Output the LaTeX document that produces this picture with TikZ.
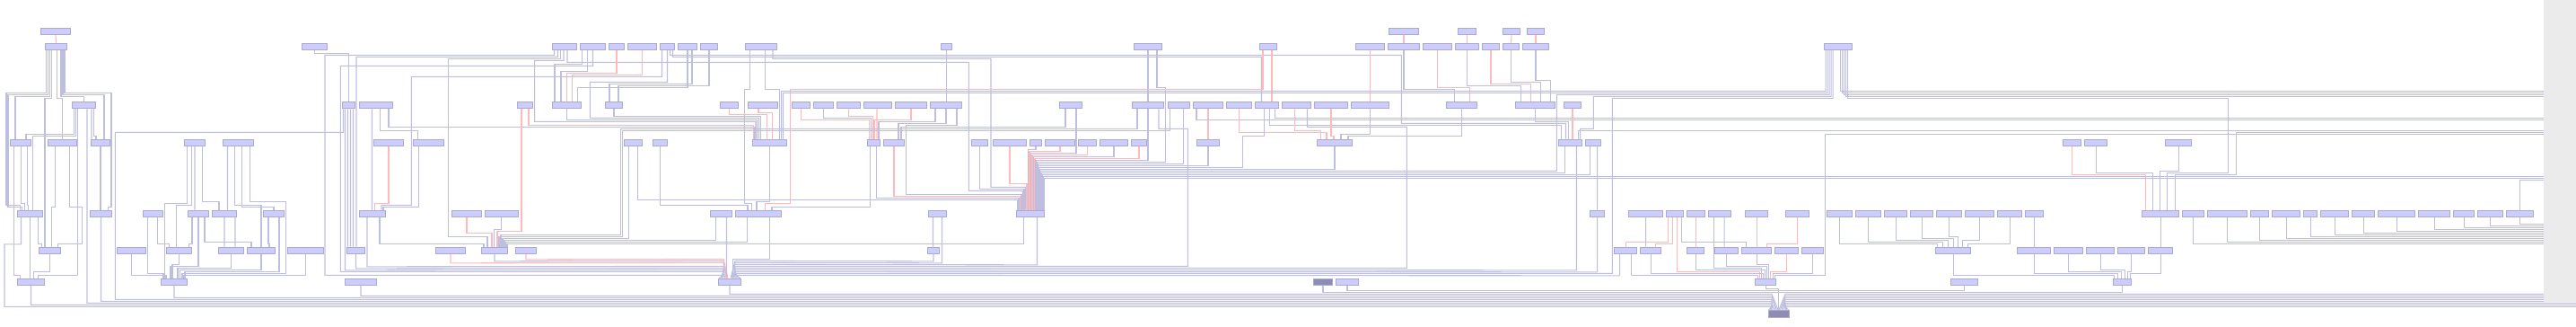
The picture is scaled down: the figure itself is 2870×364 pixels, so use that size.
\documentclass[tikz,border=0pt]{standalone}
\usetikzlibrary{positioning}
\definecolor{cellfill}{RGB}{204,204,255}
\definecolor{cellline}{RGB}{172,172,200}
\definecolor{darkfill}{RGB}{140,140,180}
\definecolor{wireblue}{RGB}{190,190,224}
\definecolor{wirered}{RGB}{255,185,185}
\definecolor{panel}{RGB}{235,235,235}
\tikzset{
	cell/.style     = {draw=cellline, fill=cellfill, rectangle, inner sep=0pt, minimum height=0.72mm, line width=0.3pt},
	darkcell/.style = {cell, fill=darkfill},
	wire/.style     = {draw=wireblue, line width=0.3pt},
	hotwire/.style  = {draw=wirered, line width=0.3pt}
}
\begin{document}
\begin{tikzpicture}[x=0.1mm, y=-0.1mm]
	\useasboundingbox (0,0) rectangle (2870,364);
	\fill[panel] (2834,0) rectangle (2870,336);

	\node (A1) [cell, minimum width=3.3mm] at (62,35) {};
	\node (A2) [cell, minimum width=3.3mm] at (1564,35) {};
	\node (A3) [cell, minimum width=2.0mm] at (1634.5,35) {};
	\node (A4) [cell, minimum width=1.9mm] at (1684,35) {};
	\node (A5) [cell, minimum width=1.9mm] at (1711,35) {};

	\node (B1)  [cell, minimum width=2.4mm] at (62.5,51.7) {};
	\node (B2)  [cell, minimum width=2.8mm] at (350.5,51.7) {};
	\node (B3)  [cell, minimum width=2.7mm] at (629,51.7) {};
	\node (B4)  [cell, minimum width=2.8mm] at (660.5,51.7) {};
	\node (B5)  [cell, minimum width=1.7mm] at (687,51.7) {};
	\node (B6)  [cell, minimum width=3.2mm] at (715.5,51.7) {};
	\node (B7)  [cell, minimum width=1.6mm] at (743.5,51.7) {};
	\node (B8)  [cell, minimum width=2.1mm] at (766,51.7) {};
	\node (B9)  [cell, minimum width=1.9mm] at (790,51.7) {};
	\node (B10) [cell, minimum width=3.5mm] at (848,51.7) {};
	\node (B11) [cell, minimum width=1.2mm] at (1054.5,51.7) {};
	\node (B12) [cell, minimum width=3.1mm] at (1279,51.7) {};
	\node (B13) [cell, minimum width=1.9mm] at (1413,51.7) {};
	\node (B14) [cell, minimum width=3.2mm] at (1526.5,51.7) {};
	\node (B15) [cell, minimum width=3.5mm] at (1564,51.7) {};
	\node (B16) [cell, minimum width=3.2mm] at (1601.5,51.7) {};
	\node (B17) [cell, minimum width=2.6mm] at (1634.5,51.7) {};
	\node (B18) [cell, minimum width=1.9mm] at (1661,51.7) {};
	\node (B19) [cell, minimum width=1.8mm] at (1683.5,51.7) {};
	\node (B20) [cell, minimum width=2.9mm] at (1711,51.7) {};
	\node (B21) [cell, minimum width=3.1mm] at (2048,51.7) {};

	\node (C1)  [cell, minimum width=2.6mm] at (93.5,117.3) {};
	\node (C2)  [cell, minimum width=1.4mm] at (388.5,117.3) {};
	\node (C3)  [cell, minimum width=3.7mm] at (419,117.3) {};
	\node (C4)  [cell, minimum width=1.7mm] at (585,117.3) {};
	\node (C5)  [cell, minimum width=3.2mm] at (631.5,117.3) {};
	\node (C6)  [cell, minimum width=1.9mm] at (684,117.3) {};
	\node (C7)  [cell, minimum width=2.0mm] at (812.5,117.3) {};
	\node (C8)  [cell, minimum width=3.3mm] at (850,117.3) {};
	\node (C9)  [cell, minimum width=2.0mm] at (892.5,117.3) {};
	\node (C10) [cell, minimum width=2.2mm] at (917.5,117.3) {};
	\node (C11) [cell, minimum width=2.6mm] at (945.5,117.3) {};
	\node (C12) [cell, minimum width=3.1mm] at (978,117.3) {};
	\node (C13) [cell, minimum width=3.5mm] at (1015,117.3) {};
	\node (C14) [cell, minimum width=3.5mm] at (1054,117.3) {};
	\node (C15) [cell, minimum width=2.5mm] at (1193,117.3) {};
	\node (C16) [cell, minimum width=3.5mm] at (1279,117.3) {};
	\node (C17) [cell, minimum width=2.4mm] at (1313.5,117.3) {};
	\node (C18) [cell, minimum width=3.3mm] at (1346,117.3) {};
	\node (C19) [cell, minimum width=2.8mm] at (1380.5,117.3) {};
	\node (C20) [cell, minimum width=2.6mm] at (1411.5,117.3) {};
	\node (C21) [cell, minimum width=3.2mm] at (1444.5,117.3) {};
	\node (C22) [cell, minimum width=3.7mm] at (1483,117.3) {};
	\node (C23) [cell, minimum width=4.2mm] at (1526.5,117.3) {};
	\node (C24) [cell, minimum width=3.4mm] at (1628.5,117.3) {};
	\node (C25) [cell, minimum width=4.4mm] at (1710.5,117.3) {};
	\node (C26) [cell, minimum width=1.9mm] at (1752,117.3) {};

	\node (D1)  [cell, minimum width=2.3mm] at (23,158.7) {};
	\node (D2)  [cell, minimum width=3.2mm] at (69.5,158.7) {};
	\node (D3)  [cell, minimum width=2.1mm] at (112,158.7) {};
	\node (D4)  [cell, minimum width=2.3mm] at (217,158.7) {};
	\node (D5)  [cell, minimum width=3.4mm] at (265.5,158.7) {};
	\node (D6)  [cell, minimum width=3.3mm] at (433,158.7) {};
	\node (D7)  [cell, minimum width=3.4mm] at (477.5,158.7) {};
	\node (D8)  [cell, minimum width=2.0mm] at (705.5,158.7) {};
	\node (D9)  [cell, minimum width=1.6mm] at (735.5,158.7) {};
	\node (D10) [cell, minimum width=3.8mm] at (857.5,158.7) {};
	\node (D11) [cell, minimum width=1.4mm] at (973.5,158.7) {};
	\node (D12) [cell, minimum width=2.3mm] at (996,158.7) {};
	\node (D13) [cell, minimum width=1.8mm] at (1091.5,158.7) {};
	\node (D14) [cell, minimum width=3.7mm] at (1125,158.7) {};
	\node (D15) [cell, minimum width=1.3mm] at (1154,158.7) {};
	\node (D16) [cell, minimum width=3.3mm] at (1181,158.7) {};
	\node (D17) [cell, minimum width=2.0mm] at (1211.5,158.7) {};
	\node (D18) [cell, minimum width=3.1mm] at (1241,158.7) {};
	\node (D19) [cell, minimum width=1.7mm] at (1269,158.7) {};
	\node (D20) [cell, minimum width=2.5mm] at (1346,158.7) {};
	\node (D21) [cell, minimum width=3.9mm] at (1487,158.7) {};
	\node (D22) [cell, minimum width=2.6mm] at (1749.5,158.7) {};
	\node (D23) [cell, minimum width=1.7mm] at (1775,158.7) {};
	\node (D24) [cell, minimum width=2.0mm] at (2308.5,158.7) {};
	\node (D25) [cell, minimum width=2.5mm] at (2335,158.7) {};
	\node (D26) [cell, minimum width=2.9mm] at (2427,158.7) {};

	\node (E1)  [cell, minimum width=2.8mm] at (33.5,237.7) {};
	\node (E2)  [cell, minimum width=2.4mm] at (112.5,237.7) {};
	\node (E3)  [cell, minimum width=2.2mm] at (170.5,237.7) {};
	\node (E4)  [cell, minimum width=2.3mm] at (221,237.7) {};
	\node (E5)  [cell, minimum width=2.7mm] at (250,237.7) {};
	\node (E6)  [cell, minimum width=2.3mm] at (305,237.7) {};
	\node (E7)  [cell, minimum width=2.9mm] at (415,237.7) {};
	\node (E8)  [cell, minimum width=3.3mm] at (520,237.7) {};
	\node (E9)  [cell, minimum width=3.7mm] at (559,237.7) {};
	\node (E10) [cell, minimum width=2.4mm] at (803.5,237.7) {};
	\node (E11) [cell, minimum width=5.1mm] at (845,237.7) {};
	\node (E12) [cell, minimum width=2.0mm] at (1044.5,237.7) {};
	\node (E13) [cell, minimum width=3.1mm] at (1148,237.7) {};
	\node (E14) [cell, minimum width=1.6mm] at (1779.5,237.7) {};
	\node (E15) [cell, minimum width=3.8mm] at (1833.5,237.7) {};
	\node (E16) [cell, minimum width=1.9mm] at (1866,237.7) {};
	\node (E17) [cell, minimum width=2.0mm] at (1889.5,237.7) {};
	\node (E18) [cell, minimum width=2.5mm] at (1916,237.7) {};
	\node (E19) [cell, minimum width=2.5mm] at (1957,237.7) {};
	\node (E20) [cell, minimum width=2.6mm] at (2002.5,237.7) {};
	\node (E21) [cell, minimum width=2.8mm] at (2049.5,237.7) {};
	\node (E22) [cell, minimum width=2.8mm] at (2081.5,237.7) {};
	\node (E23) [cell, minimum width=2.5mm] at (2112,237.7) {};
	\node (E24) [cell, minimum width=2.5mm] at (2141,237.7) {};
	\node (E25) [cell, minimum width=2.8mm] at (2171.5,237.7) {};
	\node (E26) [cell, minimum width=3.2mm] at (2205.5,237.7) {};
	\node (E27) [cell, minimum width=2.7mm] at (2239,237.7) {};
	\node (E28) [cell, minimum width=2.0mm] at (2266.5,237.7) {};
	\node (E29) [cell, minimum width=4.1mm] at (2407,237.7) {};
	\node (E30) [cell, minimum width=2.4mm] at (2443.5,237.7) {};
	\node (E31) [cell, minimum width=4.4mm] at (2481.5,237.7) {};
	\node (E32) [cell, minimum width=2.0mm] at (2517.5,237.7) {};
	\node (E33) [cell, minimum width=3.1mm] at (2547,237.7) {};
	\node (E34) [cell, minimum width=1.5mm] at (2574,237.7) {};
	\node (E35) [cell, minimum width=3.1mm] at (2601,237.7) {};
	\node (E36) [cell, minimum width=2.5mm] at (2633,237.7) {};
	\node (E37) [cell, minimum width=4.1mm] at (2670,237.7) {};
	\node (E38) [cell, minimum width=3.5mm] at (2712,237.7) {};
	\node (E39) [cell, minimum width=2.3mm] at (2745,237.7) {};
	\node (E40) [cell, minimum width=2.8mm] at (2774.5,237.7) {};
	\node (E41) [cell, minimum width=3.0mm] at (2807.5,237.7) {};

	\node (F1)  [cell, minimum width=2.4mm] at (55.5,278.7) {};
	\node (F2)  [cell, minimum width=3.2mm] at (146.5,278.7) {};
	\node (F3)  [cell, minimum width=2.8mm] at (199.5,278.7) {};
	\node (F4)  [cell, minimum width=2.8mm] at (257.5,278.7) {};
	\node (F5)  [cell, minimum width=3.1mm] at (291,278.7) {};
	\node (F6)  [cell, minimum width=4.0mm] at (340.5,278.7) {};
	\node (F7)  [cell, minimum width=2.0mm] at (396.5,278.7) {};
	\node (F8)  [cell, minimum width=3.3mm] at (502,278.7) {};
	\node (F9)  [cell, minimum width=2.9mm] at (551,278.7) {};
	\node (F10) [cell, minimum width=2.3mm] at (586,278.7) {};
	\node (F11) [cell, minimum width=1.3mm] at (1040,278.7) {};
	\node (F12) [cell, minimum width=2.5mm] at (1811,278.7) {};
	\node (F13) [cell, minimum width=2.3mm] at (1839,278.7) {};
	\node (F14) [cell, minimum width=1.9mm] at (1889,278.7) {};
	\node (F15) [cell, minimum width=2.6mm] at (1923.5,278.7) {};
	\node (F16) [cell, minimum width=3.3mm] at (1957,278.7) {};
	\node (F17) [cell, minimum width=2.6mm] at (1990.5,278.7) {};
	\node (F18) [cell, minimum width=2.4mm] at (2019.5,278.7) {};
	\node (F19) [cell, minimum width=3.9mm] at (2176,278.7) {};
	\node (F20) [cell, minimum width=3.7mm] at (2266,278.7) {};
	\node (F21) [cell, minimum width=3.2mm] at (2304.5,278.7) {};
	\node (F22) [cell, minimum width=3.1mm] at (2340,278.7) {};
	\node (F23) [cell, minimum width=3.0mm] at (2374.5,278.7) {};
	\node (F24) [cell, minimum width=2.7mm] at (2407,278.7) {};

	\node (G1) [cell, minimum width=3.0mm] at (34.5,313.7) {};
	\node (G2) [cell, minimum width=2.9mm] at (194,313.7) {};
	\node (G3) [cell, minimum width=3.5mm] at (402,313.7) {};
	\node (G4) [cell, minimum width=2.5mm] at (813,313.7) {};
	\node (G5) [darkcell, minimum width=2.1mm] at (1474,313.7) {};
	\node (G6) [cell, minimum width=2.5mm] at (1501,313.7) {};
	\node (G7) [cell, minimum width=2.3mm] at (1967,313.7) {};
	\node (G8) [cell, minimum width=3.0mm] at (2188.5,313.7) {};
	\node (G9) [cell, minimum width=2.0mm] at (2364.5,313.7) {};

	\node (H1) [darkcell, minimum width=2.3mm, minimum height=0.8mm] at (1981.5,349.3) {};

	\coordinate (r101) at (2834,101.3); \coordinate (r103) at (2834,103.3);
	\coordinate (r105) at (2834,105.3); \coordinate (r107) at (2834,107.3);
	\coordinate (r131) at (2834,131.3); \coordinate (r133) at (2834,133.3);
	\coordinate (r145) at (2834,145.3); \coordinate (r147) at (2834,147.3);
	\coordinate (r149) at (2834,149.3); \coordinate (r196) at (2834,196.3);
	\coordinate (r198) at (2834,198.3); \coordinate (r200) at (2834,200.3);
	\coordinate (r249) at (2834,249.3); \coordinate (r251) at (2834,251.3);
	\coordinate (r253) at (2834,253.3); \coordinate (r255) at (2834,255.3);
	\coordinate (r257) at (2834,257.3); \coordinate (r259) at (2834,259.3);
	\coordinate (r261) at (2834,261.3); \coordinate (r263) at (2834,263.3);
	\coordinate (r265) at (2834,265.3); \coordinate (r267) at (2834,267.3);
	\coordinate (r269) at (2834,269.3); \coordinate (r271) at (2834,271.3);
	\coordinate (r327) at (2834,327.3); \coordinate (r329) at (2834,329.3);
	\coordinate (r331) at (2834,331.3); \coordinate (r333) at (2834,333.3);
	\coordinate (r335) at (2834,335.3); \coordinate (r337) at (2870,337.3);
	\coordinate (r339) at (2870,339.3); \coordinate (r341) at (2870,341.3);

	\draw [hotwire] (A1) -- (B1);
	\draw [wire] ([xshift=-1.1mm]B1.south) |- (7,103.3) -- (7,228.3) -| ([xshift=-1.1mm]E1.north);
	\draw [wire] ([xshift=-0.9mm]B1.south) |- (9,105.3) -- (9,230.3) -| ([xshift=-0.9mm]E1.north);
	\draw [wire] ([xshift=-0.7mm]B1.south) -- ++(0,52) -| ([xshift=-0.6mm]D1.north);
	\draw [wire] ([xshift=-0.5mm]B1.south) -- ++(0,54) -| ([xshift=-0.55mm]F1.north);
	\draw [wire] ([xshift=0.1mm]B1.south) -- ++(0,54) -| (D2.north);
	\draw [wire] ([xshift=0.55mm]B1.south) -- ++(0,52) -| (C1.north);
	\draw [wire] ([xshift=0.75mm]B1.south) -- ++(0,50) -| ([xshift=0.4mm]D3.north);
	\draw [wire] ([xshift=0.95mm]B1.south) -- ++(0,48) -| (124,230.3) -| ([xshift=0.8mm]E2.north);
	\draw [wire] ([xshift=-1.1mm]C1.south) -- ++(0,28) -| ([xshift=0.6mm]D1.north);
	\draw [wire] ([xshift=-0.9mm]C1.south) -- ++(0,30) -| ([xshift=0.3mm]E1.north);
	\draw [wire] ([xshift=-0.7mm]C1.south) -- ++(0,185) -| ([xshift=0.8mm]G1.north);
	\draw [wire] ([xshift=0.35mm]C1.south) |- (1974,337.3) -- ([xshift=-0.5mm]H1.north);
	\draw [wire] ([xshift=0.85mm]C1.south) -- ([xshift=-1mm]D3.north);
	\draw [wire] ([xshift=1.1mm]C1.south) -- ++(0,30) -| ([xshift=-0.5mm]D3.north);
	\draw [wire] ([xshift=-0.75mm]D1.south) -- ++(0,144) -| ([xshift=-1.2mm]G1.north);
	\draw [wire] ([xshift=0.05mm]D1.south) -- ++(0,64) -| ([xshift=-0.6mm]E1.north);
	\draw [wire] ([xshift=0.75mm]D1.south) -- ++(0,66) -| ([xshift=-0.2mm]E1.north);
	\draw [wire] ([xshift=-0.8mm]D2.south) -- ++(0,68) -| ([xshift=0.2mm]F1.north);
	\draw [wire] ([xshift=0.8mm]D2.south) -- ++(0,68) -| (91.3,271.3) -| ([xshift=0.9mm]F1.north);
	\draw [wire] (D3.south) -- (D3.south |- E2.north);
	\draw [wire] ([xshift=-1mm]E1.south) -- ++(0,30) -| (5,341.3) -- (1974,341.3) -- ([xshift=-1.1mm]H1.north);
	\draw [wire] (E1.south) -- (E1.south |- G1.north);
	\draw [wire] ([xshift=0.9mm]E1.south) -- ++(0,30) -| ([xshift=-0.9mm]F1.north);
	\draw [wire] (E2.south) |- (1974,335.3) -- ([xshift=-0.65mm]H1.north);
	\draw [wire] (F1.south) -- ++(0,20) -| ([xshift=0.3mm]G1.north);
	\draw [wire] (G1.south) |- (1974,339.3) -- ([xshift=-0.95mm]H1.north);

	\draw [wire] (B2.south) -- ++(0,4) -| (C2.north);
	\draw [wire] ([xshift=-0.6mm]C2.south) -- ++(0,26) -| (128.3,333.3) -- (1974,333.3) -- ([xshift=-0.8mm]H1.north);
	\draw [wire] ([xshift=-0.4mm]C2.south) -- ++(0,179.4) -- (806,300.4) -- ([xshift=-0.85mm]G4.north);
	\draw [wire] ([xshift=-0.1mm]C2.south) -- ([xshift=-0.9mm]F7.north);
	\draw [wire] ([xshift=0.2mm]C2.south) -- ([xshift=-0.6mm]F7.north);
	\draw [wire] ([xshift=0.5mm]C2.south) -- ([xshift=-0.3mm]F7.north);
	\draw [wire] (F7.south) -- ++(0,16) -- (806,298.4) -- ([xshift=-0.7mm]G4.north);
	\draw [wire] ([xshift=-0.45mm]C3.south) -- ([xshift=-0.05mm]E7.north);
	\draw [wire] ([xshift=0.45mm]C3.south) -- ++(0,24) -| ([xshift=-1.2mm]D7.north);
	\draw [wire] ([xshift=1.4mm]C3.south) -- ++(0,20) -| ([xshift=-1.65mm]D10.north);
	\draw [hotwire] (D6.south) -- ++(0,64) -| ([xshift=0.27mm]E7.north);
	\draw [wire] ([xshift=-1.1mm]D7.south) -- ++(0,68) -| ([xshift=1.2mm]E7.north);
	\draw [wire] ([xshift=-0.6mm]E7.south) -- ++(0,55) -- (806,296.4) -- ([xshift=-0.55mm]G4.north);
	\draw [wire] ([xshift=0.8mm]E7.south) -- ++(0,30) -| ([xshift=-1.2mm]F9.north);
	\draw [wire] (G3.south) |- (1974,329.3) -- ([xshift=-0.35mm]H1.north);

	\draw [wire] ([xshift=-0.85mm]D4.south) -- ++(0,64) -| ([xshift=-1.05mm]G2.north);
	\draw [wire] ([xshift=-0.35mm]D4.south) -- ++(0,66) -| ([xshift=-0.3mm]F3.north);
	\draw [wire] (D4.south) -- ([xshift=-0.4mm]E4.north);
	\draw [wire] ([xshift=0.85mm]D4.south) -- ++(0,62) -| ([xshift=-0.6mm]E5.north);
	\draw [wire] ([xshift=-1.2mm]D5.south) -- ([xshift=0.35mm]E5.north);
	\draw [wire] ([xshift=-0.4mm]D5.south) -- ++(0,66) -| (F5.north);
	\draw [wire] ([xshift=0.4mm]D5.south) -- ++(0,68) -| (E6.north);
	\draw [wire] ([xshift=1.3mm]D5.south) -- ++(0,62) -| (318.3,304.4) -| ([xshift=0.9mm]G2.north);
	\draw [wire] ([xshift=-0.6mm]E3.south) -- ++(0,63) -| ([xshift=-1.2mm]G2.north);
	\draw [wire] ([xshift=0.5mm]E3.south) -- ++(0,30) -| ([xshift=-1.1mm]F3.north);
	\draw [wire] ([xshift=-0.7mm]E4.south) -- ++(0,30) -| ([xshift=1.1mm]F3.north);
	\draw [wire] (E4.south) -- ++(0,55) -| ([xshift=-0.4mm]G2.north);
	\draw [wire] ([xshift=0.7mm]E4.south) -- ++(0,28) -| ([xshift=-1.1mm]F5.north);
	\draw [wire] (E5.south) -- ([xshift=-0.75mm]F4.north);
	\draw [wire] ([xshift=1.2mm]E5.south) -- ([xshift=0.45mm]F4.north);
	\draw [wire] ([xshift=-0.6mm]E6.south) -- ++(0,30) -| ([xshift=0.9mm]F5.north);
	\draw [wire] ([xshift=0.6mm]E6.south) -- ++(0,61) -| ([xshift=1.2mm]G2.north);
	\draw [wire] (F2.south) -- ++(0,24) -| ([xshift=-0.9mm]G2.north);
	\draw [wire] (F3.south) -- ++(0,12) -| ([xshift=-0.2mm]G2.north);
	\draw [wire] (F4.south) -- ++(0,16) -| ([xshift=0.4mm]G2.north);
	\draw [wire] (F5.south) -- ++(0,18) -| ([xshift=0.65mm]G2.north);
	\draw [wire] (F6.south) -- ++(0,24) -| ([xshift=1.05mm]G2.north);
	\draw [wire] (G2.south) |- (1974,331.3) -- ([xshift=-0.2mm]H1.north);

	\draw [wire] ([xshift=-1.15mm]B3.south) |- (362,61.3) |- (806,306.4) -- ([xshift=-1.2mm]G4.north);
	\draw [wire] ([xshift=-0.75mm]B3.south) |- (397,63.3) -- ([xshift=0.05mm]F7.north);
	\draw [wire] ([xshift=-0.45mm]B3.south) |- (499.3,65.3) -- (499.3,263.3) -| ([xshift=-0.8mm]F9.north);
	\draw [wire] ([xshift=-0.1mm]B3.south) |- (595.7,67.3) |- (842,135.3) -- ([xshift=-1.55mm]D10.north);
	\draw [wire] ([xshift=0.3mm]B3.south) |- (1079.3,69.3) |- (1139.5,212.3) -- ([xshift=-0.85mm]E13.north);
	\draw [wire] ([xshift=-1.2mm]B4.south) -- ++(0,16) -| ([xshift=-1.35mm]C5.north);
	\draw [wire] ([xshift=-0.6mm]B4.south) -- ++(0,24) -| ([xshift=-0.65mm]C5.north);
	\draw [wire] (B4.south) |- (379.3,73.3) |- (806,302.4) -- ([xshift=-1mm]G4.north);
	\draw [hotwire] (B5.south) -- ++(0,26) -| (C5.north);
	\draw [hotwire] (B6.south) -- ++(0,28) -| ([xshift=0.6mm]C5.north);
	\draw [wire] ([xshift=-0.6mm]B7.south) |- (458.3,85.3) |- (425,228.4) -- ([xshift=1mm]E7.north);
	\draw [wire] (B7.south) |- (657.3,91.3) |- (845.5,131.3) -- ([xshift=-1.2mm]D10.north);
	\draw [wire] ([xshift=0.3mm]B7.south) |- (1561.3,61.3) |- (1744.5,137.3) -- ([xshift=-0.5mm]D22.north);
	\draw [wire] ([xshift=0.6mm]B7.south) |- (1405.5,63.3) -- ([xshift=-0.6mm]C20.north);
	\draw [wire] (B8.south) -- ++(0,42) -| ([xshift=1.2mm]C5.north);
	\draw [wire] ([xshift=0.5mm]B8.south) -- ++(0,38) -| ([xshift=-0.5mm]C6.north);
	\draw [wire] (B9.south) -- ++(0,40) -| ([xshift=0.5mm]C6.north);
	\draw [wire] ([xshift=-1.25mm]B10.south) -- ++(0,44) -| (829.3,226.7) -| ([xshift=-0.75mm]E11.north);
	\draw [wire] ([xshift=0.45mm]B10.south) -- ++(0,44) -| ([xshift=1.1mm]D10.north);
	\draw [wire] ([xshift=1.3mm]B10.south) |- (1104,65.3) |- (1142.5,208.3) -- ([xshift=-0.55mm]E13.north);
	\draw [wire] (B11.south) -- (B11.south |- C14.north);
	\draw [wire] (B12.south) -- (B12.south |- C16.north);
	\draw [wire] ([xshift=1mm]B12.south) -- ++(0,42) -| (1298.3,180.3) -| ([xshift=0.7mm]E13.north);
	\draw [hotwire] ([xshift=-0.6mm]B13.south) -- ++(0,44) -| (880.3,226.7) -| ([xshift=0.75mm]E11.north);
	\draw [hotwire] ([xshift=0.4mm]B13.south) -- ([xshift=0.55mm]C20.north);

	\draw [hotwire] ([xshift=-0.4mm]C4.south) -- ++(0,136) -| ([xshift=0.3mm]F9.north);
	\draw [hotwire] ([xshift=0.4mm]C4.south) -- ++(0,18) -| ([xshift=-1.8mm]D10.north);
	\draw [wire] (C5.south) -- ++(0,12) -| ([xshift=-1.4mm]D10.north);
	\draw [wire] (C6.south) -- ++(0,8) -| ([xshift=-1mm]D10.north);
	\draw [hotwire] (C7.south) -- ++(0,6) -| ([xshift=-0.3mm]D10.north);
	\draw [hotwire] ([xshift=-0.5mm]C8.south) -- ++(0,4) -| ([xshift=0.3mm]D10.north);
	\draw [hotwire] (C9.south) -- ++(0,12) -| ([xshift=-0.5mm]D11.north);
	\draw [wire] (C10.south) -- ++(0,10) -| ([xshift=-0.3mm]D11.north);
	\draw [hotwire] (C11.south) -- ++(0,8) -| ([xshift=-0.1mm]D11.north);
	\draw [hotwire] ([xshift=-0.1mm]C12.south) -- ([xshift=0.35mm]D11.north);
	\draw [hotwire] (C13.south) -- ++(0,12) -| ([xshift=0.05mm]D11.north);
	\draw [wire] ([xshift=-1.2mm]C14.south) -- ++(0,14) -| ([xshift=0.55mm]D11.north);
	\draw [wire] (C14.south) -- ++(0,16) -| ([xshift=0.5mm]D12.north);
	\draw [wire] ([xshift=1.2mm]C14.south) -- ++(0,18) -| (1009.3,216.3) -| ([xshift=-1mm]E13.north);

	\draw [wire] ([xshift=-0.5mm]D8.south) -- ++(0,103) -| ([xshift=0.9mm]F9.north);
	\draw [wire] ([xshift=0.5mm]D8.south) -- ++(0,60) -| ([xshift=-1.45mm]E13.north);
	\draw [wire] (D9.south) -- ++(0,66) -| ([xshift=-1.2mm]E11.north);
	\draw [wire] (D10.south) -- ++(0,62) -| ([xshift=-0.2mm]E11.north);
	\draw [wire] ([xshift=-0.4mm]D11.south) -- ++(0,68) -| ([xshift=1.5mm]E11.north);
	\draw [wire] ([xshift=0.3mm]D11.south) -- ++(0,58) -| ([xshift=-1.3mm]E13.north);
	\draw [hotwire] (D12.south) -- ++(0,56) -| ([xshift=-1.15mm]E13.north);
	\draw [wire] (D13.south) -- ++(0,48) -| ([xshift=-0.7mm]E13.north);
	\draw [hotwire] (D14.south) -- ++(0,42) -| ([xshift=-0.4mm]E13.north);
	\draw [wire] (D15.south) -- ++(0,4) -| ([xshift=-0.25mm]E13.north);
	\draw [hotwire] (D16.south) -- ++(0,6) -| ([xshift=-0.1mm]E13.north);
	\draw [wire] ([xshift=0.6mm]C15.south) -- ++(0,49) -| ([xshift=0.05mm]E13.north);
	\draw [wire] ([xshift=-0.6mm]C15.south) -- ++(0,20) -| ([xshift=0.8mm]D12.north);
	\draw [hotwire] (D17.south) -- ++(0,10) -| ([xshift=0.2mm]E13.north);
	\draw [wire] (D18.south) -- ++(0,12) -| ([xshift=0.35mm]E13.north);
	\draw [hotwire] (D19.south) -- ++(0,14) -| ([xshift=0.5mm]E13.north);
	\draw [wire] (C16.south) -- ++(0,57) -| ([xshift=0.6mm]E13.north);
	\draw [wire] ([xshift=-1.2mm]C16.south) -- ++(0,22) -| (691.3,261.3) -| ([xshift=0.7mm]F9.north);
	\draw [wire] ([xshift=1.2mm]C16.south) -- ++(0,22) -| (1323.3,296.4) -- (819,296.4) -- ([xshift=0.5mm]G4.north);
	\draw [wire] ([xshift=-1mm]C17.south) -- ++(0,24) -| (693.3,263.3) -| ([xshift=0.5mm]F9.north);
	\draw [wire] ([xshift=0.5mm]C17.south) -- ++(0,61) -| ([xshift=0.8mm]E13.north);
	\draw [hotwire] (C18.south) -- (C18.south |- D20.north);
	\draw [wire] ([xshift=-1.3mm]C18.south) |- (r133);
	\draw [wire] (D20.south) -- ++(0,22) -| ([xshift=0.65mm]E13.north);
	\draw [hotwire] (C19.south) -- ++(0,26) -| ([xshift=-0.9mm]D21.north);
	\draw [wire] ([xshift=-0.3mm]C20.south) -- ++(0,30) -| (1384.3,186.3) -| ([xshift=0.9mm]E13.north);
	\draw [wire] ([xshift=0.3mm]C20.south) -- ++(0,18) -| ([xshift=-1mm]D22.north);
	\draw [wire] ([xshift=0.9mm]C20.south) |- (r131);
	\draw [hotwire] ([xshift=-0.2mm]C21.south) -- ++(0,24) -| ([xshift=-1.55mm]D21.north);
	\draw [wire] ([xshift=1.2mm]C21.south) -- ++(0,20) -| (1567.3,298.4) -- (819,298.4) -- ([xshift=0.6mm]G4.north);
	\draw [hotwire] (C22.south) -- ++(0,30) -| ([xshift=-0.1mm]D21.north);
	\draw [hotwire] (B14.south) -- (C23.north);
	\draw [wire] (C23.south) -- ++(0,28) -| ([xshift=0.7mm]D21.north);
	\draw [wire] (C24.south) -- ++(0,30) -| ([xshift=1.5mm]D21.north);
	\draw [hotwire] (A2) -- (B15);
	\draw [hotwire] (A3) -- (B17);
	\draw [hotwire] (A4) -- (B19);
	\draw [hotwire] (A5) -- (B20);
	\draw [wire] (B15.south) -- ++(0,44) -| ([xshift=-0.8mm]C24.north);
	\draw [hotwire] (B16.south) -- ++(0,42) -| ([xshift=0.9mm]C24.north);
	\draw [wire] (B17.south) -- ++(0,40) -| ([xshift=-1.6mm]C25.north);
	\draw [hotwire] (B18.south) -- ++(0,38) -| ([xshift=-0.5mm]C25.north);
	\draw [wire] (B19.south) -- ++(0,36) -| ([xshift=0.6mm]C25.north);
	\draw [wire] (B20.south) -- ++(0,34) -| ([xshift=1.7mm]C25.north);
	\draw [wire] (C25.south) -- ++(0,14) -| ([xshift=-0.2mm]D22.north);
	\draw [hotwire] (C26.south) -- (C26.south |- D22.north);
	\draw [wire] (D21.south) -- ++(0,26) -| ([xshift=1mm]E13.north);
	\draw [wire] ([xshift=-0.6mm]D22.south) -- ++(0,30) -| ([xshift=1.2mm]E13.north);
	\draw [wire] ([xshift=0.7mm]D22.south) -- ++(0,138) -- (819,300.4) -- ([xshift=0.75mm]G4.north);
	\draw [wire] ([xshift=0.9mm]D22.north) |- (r145);
	\draw [wire] ([xshift=-0.4mm]D23.south) -- ++(0,32) -| ([xshift=1.3mm]E13.north);
	\draw [wire] ([xshift=0.45mm]D23.south) -- (E14.north);
	\draw [wire] (E14.south) -- ++(0,61) -- (819,302.4) -- ([xshift=0.9mm]G4.north);

	\draw [wire] ([xshift=-1.4mm]B21.south) |- (870.5,101.3) -- ([xshift=1.3mm]D10.north);
	\draw [wire] ([xshift=-1.2mm]B21.south) |- (872.5,103.3) -- ([xshift=1.5mm]D10.north);
	\draw [wire] ([xshift=-1mm]B21.south) |- (1734.3,105.3) |- (1159,190.4) -- ([xshift=1.1mm]E13.north);
	\draw [wire] ([xshift=-0.8mm]B21.south) |- (1775.3,107.3) |- (1760.5,143.3) -- ([xshift=1.1mm]D22.north);
	\draw [wire] ([xshift=-0.6mm]B21.south) |- (1796.3,109.3) |- (819,304.4) -- ([xshift=1.05mm]G4.north);
	\draw [wire] ([xshift=0.2mm]B21.south) |- (r101);
	\draw [wire] ([xshift=0.4mm]B21.south) |- (r103);
	\draw [wire] ([xshift=0.6mm]B21.south) |- (r105);
	\draw [wire] ([xshift=0.8mm]B21.south) |- (r107);
	\draw [wire] ([xshift=1mm]B21.south) |- (2482.3,109.3) -- (2482.3,192.4) -| ([xshift=0.75mm]E29.north);
	\draw [hotwire] (D24.south) -- ++(0,32) -| ([xshift=-1.65mm]E29.north);
	\draw [wire] (D25.south) -- ++(0,30) -| ([xshift=-0.85mm]E29.north);
	\draw [wire] (D26.south) -- ++(0,28) -| ([xshift=-0.05mm]E29.north);
	\draw [wire] (r147) -| (2491.3,194.4) -| ([xshift=1.6mm]E29.north);
	\draw [wire] (r149) -| (2033.3,306.4) -| ([xshift=1mm]G7.north);
	\draw [wire] (r196) -| ([xshift=1.4mm]E13.north);
	\draw [wire] (r198) -| ([xshift=1.5mm]E13.north);
	\draw [wire] (E29.south) -- (E29.south |- F24.north);

	\draw [wire] (E15.south) -- ([xshift=-0.55mm]F13.north);
	\draw [hotwire] ([xshift=-0.75mm]E16.south) -- ++(0,28) -| (F12.north);
	\draw [hotwire] ([xshift=-0.25mm]E16.south) -- ++(0,30) -| ([xshift=0.55mm]F13.north);
	\draw [hotwire] ([xshift=0.25mm]E16.south) -- ++(0,61) -| ([xshift=-0.7mm]G7.north);
	\draw [wire] ([xshift=0.75mm]E16.south) -- ++(0,28) -| ([xshift=-1.15mm]F16.north);
	\draw [hotwire] (E17.south) -- (E17.south |- F14.north);
	\draw [wire] ([xshift=-0.7mm]E18.south) -- ++(0,57) -| ([xshift=-0.45mm]G7.north);
	\draw [wire] ([xshift=0.5mm]E18.south) -- ([xshift=-0.25mm]F15.north);
	\draw [hotwire] (E19.south) -- (E19.south |- F16.north);
	\draw [hotwire] (E20.south) -- ++(0,30) -| ([xshift=1.15mm]F16.north);
	\draw [wire] (E21.south) -- ++(0,30) -| ([xshift=-1.75mm]F19.north);
	\draw [wire] (E22.south) -- ++(0,28) -| ([xshift=-1.15mm]F19.north);
	\draw [wire] (E23.south) -- ++(0,26) -| ([xshift=-0.55mm]F19.north);
	\draw [wire] (E24.south) -- ++(0,24) -| (F19.north);
	\draw [wire] (E25.south) -- ++(0,22) -| ([xshift=0.5mm]F19.north);
	\draw [wire] (E26.south) -- ++(0,26) -| ([xshift=1.05mm]F19.north);
	\draw [wire] (E27.south) -- ++(0,30) -| ([xshift=1.6mm]F19.north);
	\draw [wire] (E28.south) -- (E28.south |- F20.north);
	\draw [wire] ([xshift=-0.65mm]F12.south) -- ++(0,24) -- (819,306.4) -- ([xshift=1.2mm]G4.north);
	\draw [wire] ([xshift=0.65mm]F12.south) -- ++(0,24) -| ([xshift=-0.9mm]G7.north);
	\draw [wire] (F13.south) -- ++(0,22) -| ([xshift=-0.25mm]G7.north);
	\draw [wire] (F14.south) -- ++(0,18) -| ([xshift=-0.05mm]G7.north);
	\draw [wire] (F15.south) -- ++(0,14) -| ([xshift=0.15mm]G7.north);
	\draw [wire] (F16.south) -- ++(0,12) -| ([xshift=0.35mm]G7.north);
	\draw [hotwire] (F17.south) -- ++(0,20) -| ([xshift=0.55mm]G7.north);
	\draw [wire] (F18.south) -- ++(0,22) -| ([xshift=0.8mm]G7.north);
	\draw [wire] (F19.south) -- ++(0,24) -| ([xshift=-0.95mm]G9.north);
	\draw [wire] (F20.south) -- ++(0,22) -| ([xshift=-0.55mm]G9.north);
	\draw [wire] (F21.south) -- ++(0,20) -| ([xshift=-0.15mm]G9.north);
	\draw [wire] (F22.south) -- ++(0,18) -| ([xshift=0.25mm]G9.north);
	\draw [wire] (F23.south) -- ++(0,20) -| ([xshift=0.55mm]G9.north);
	\draw [wire] (F24.south) -- ++(0,22) -| ([xshift=0.9mm]G9.north);
	\draw [wire] (G5.south) -- ++(0,8) -| (G9.south);
	\draw [wire] (G6.south) -- ++(0,6) -| (G8.south);
	\draw [wire] (G7.south) -- ++(0,4) -| (H1.north);

	\draw [hotwire] (F8.south) -- ++(0,10) -- (806,292.4) -- ([xshift=-0.4mm]G4.north);
	\draw [wire] (F9.south) -- ++(0,8) -- (806,290.4) -- ([xshift=-0.3mm]G4.north);
	\draw [hotwire] (F10.south) -- ++(0,6) -- (806,288.4) -- ([xshift=-0.2mm]G4.north);
	\draw [hotwire] (E8.south) -- ++(0,18) -| ([xshift=-0.3mm]F9.north);
	\draw [wire] ([xshift=-0.05mm]E9.south) -- ++(0,14) -| ([xshift=-0.05mm]F9.north);
	\draw [wire] ([xshift=-0.6mm]E10.south) -- ++(0,26) -| ([xshift=1.1mm]F9.north);
	\draw [wire] ([xshift=0.6mm]E10.south) -- ([xshift=-0.35mm]G4.north);
	\draw [wire] ([xshift=-1.25mm]E11.south) -- ++(0,28) -| ([xshift=1.25mm]F9.north);
	\draw [wire] ([xshift=1.25mm]E11.south) -- ++(0,47) -| ([xshift=0.35mm]G4.north);
	\draw [wire] ([xshift=-0.5mm]E12.south) -- ([xshift=-0.05mm]F11.north);
	\draw [wire] ([xshift=0.5mm]E12.south) -- ++(0,51) -- (819,292.4) -- ([xshift=0.2mm]G4.north);
	\draw [wire] (F11.south) -- ++(0,8) -- (819,290.4) -- ([xshift=0.1mm]G4.north);
	\draw [wire] ([xshift=-0.75mm]E13.south) -- ++(0,30) -| ([xshift=1.4mm]F9.north);
	\draw [wire] ([xshift=0.75mm]E13.south) -- ++(0,53) -- (819,294.4) -- ([xshift=0.4mm]G4.north);
	\draw [wire] (G4.south) |- (1974,327.3) -- ([xshift=-0.05mm]H1.north);

	\draw [wire] (r327) -- (1989,327.3) -- ([xshift=0.05mm]H1.north);
	\draw [wire] (r329) -- (1989,329.3) -- ([xshift=0.2mm]H1.north);
	\draw [wire] (r331) -- (1989,331.3) -- ([xshift=0.35mm]H1.north);
	\draw [wire] (r333) -- (1989,333.3) -- ([xshift=0.5mm]H1.north);
	\draw [wire] (r335) -- (1989,335.3) -- ([xshift=0.65mm]H1.north);
	\draw [wire] (r337) -- (1989,337.3) -- ([xshift=0.8mm]H1.north);
	\draw [wire] (r339) -- (1989,339.3) -- ([xshift=0.95mm]H1.north);
	\draw [wire] (r341) -- (1989,341.3) -- ([xshift=1.1mm]H1.north);

	\draw [wire] (E30.south) |- (r271);
	\draw [wire] (E31.south) |- (r269);
	\draw [wire] (E32.south) |- (r267);
	\draw [wire] (E33.south) |- (r265);
	\draw [wire] (E34.south) |- (r263);
	\draw [wire] (E35.south) |- (r261);
	\draw [wire] (E36.south) |- (r259);
	\draw [wire] (E37.south) |- (r257);
	\draw [wire] (E38.south) |- (r255);
	\draw [wire] (E39.south) |- (r253);
	\draw [wire] (E40.south) |- (r251);
	\draw [wire] (E41.south) |- (r249);
	\draw [wire] (E41.north) |- (r200);
\end{tikzpicture}
\end{document}
